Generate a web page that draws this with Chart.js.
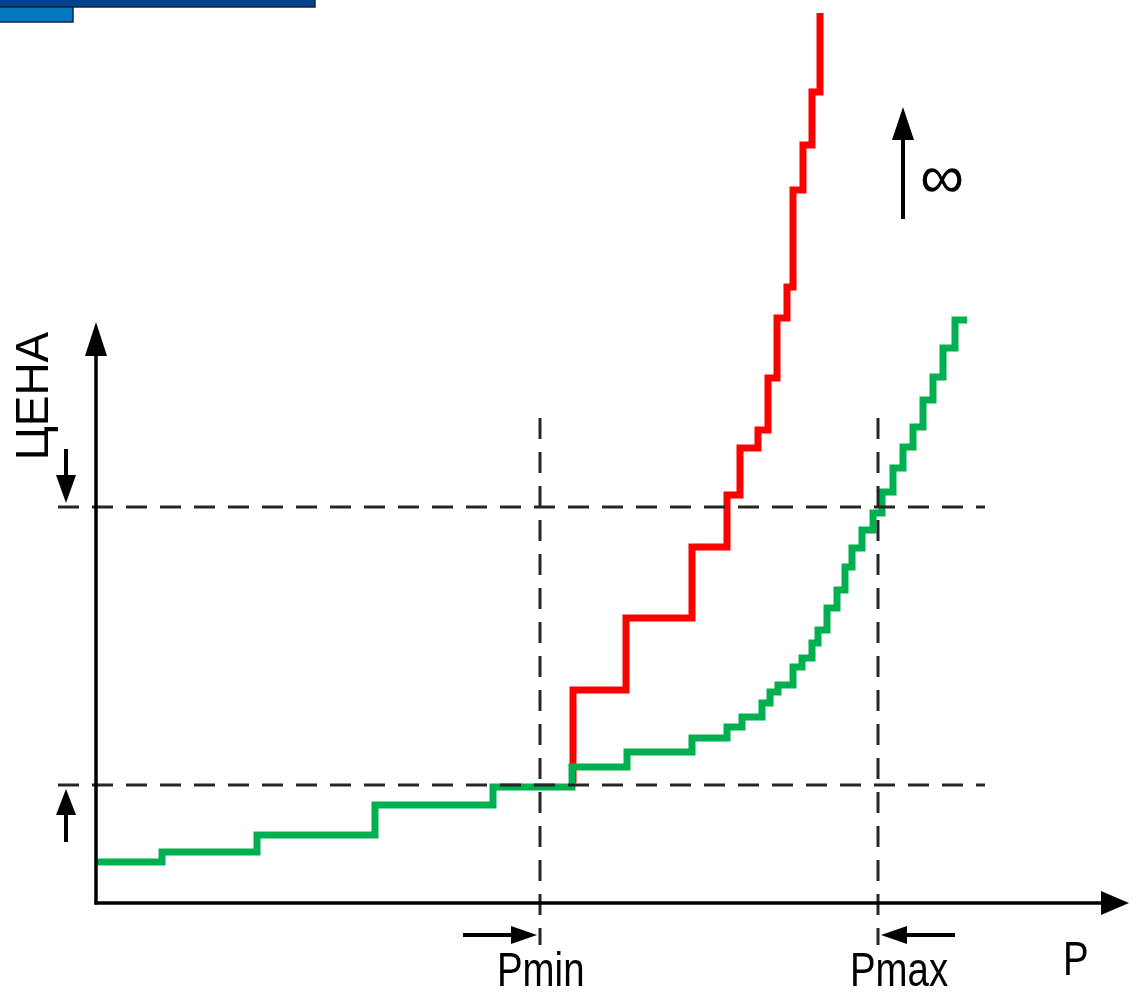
<!DOCTYPE html>
<html>
<head>
<meta charset="utf-8">
<script src="https://cdn.jsdelivr.net/npm/chart.js@4.4.1/dist/chart.umd.min.js"></script>
<style>
  html, body { margin: 0; padding: 0; background: #fff; }
  canvas { display: block; }
</style>
</head>
<body>
<canvas id="chart" width="1136" height="994"></canvas>
<script>
/* ── Data (P along x, price along y) ── */
const greenP     = [0, 66, 161, 279, 397, 476, 531, 596, 631, 646, 666, 674, 682, 697, 706, 716,
                    722, 731, 741, 749, 756, 766, 777, 786, 797, 807, 817, 827, 837, 847, 859, 871];
const greenPrice = [41, 41, 51, 68, 98, 116, 136, 151, 165, 176, 186, 200, 211, 218, 236, 245,
                    260, 273, 295, 313, 336, 355, 373, 390, 411, 435, 456, 476, 503, 526, 555, 583];
const redP       = [477, 530, 596, 631, 644, 662, 672, 681, 691, 697, 707, 716, 724, 724];
const redPrice   = [120, 213, 285, 356, 408, 455, 473, 525, 585, 616, 713, 758, 811, 890];

const priceLevels = [118, 396];          // lower / upper price bounds
const pLevels     = [444, 782];          // Pmin / Pmax
const pLabels     = ['Pmin', 'Pmax'];
const axisLabelX  = 'P';
const axisLabelY  = 'ЦЕНА';
const upLabel     = '∞';

/* ── Colors ── */
const GREEN = '#00B050';
const RED   = '#FF0000';
const INK   = '#000000';
const DASH  = '#262626';

function toPoints(xs, ys) {
  return xs.map((x, i) => ({ x, y: ys[i] }));
}

/* ── Drawing helpers ── */
function arrow(ctx, x1, y1, x2, y2, headLen, headHalf, width) {
  const ang = Math.atan2(y2 - y1, x2 - x1);
  const bx = x2 - Math.cos(ang) * headLen;
  const by = y2 - Math.sin(ang) * headLen;
  ctx.save();
  ctx.strokeStyle = INK;
  ctx.fillStyle = INK;
  ctx.lineWidth = width;
  ctx.setLineDash([]);
  ctx.beginPath();
  ctx.moveTo(x1, y1);
  ctx.lineTo(bx, by);
  ctx.stroke();
  ctx.beginPath();
  ctx.moveTo(x2, y2);
  ctx.lineTo(bx - Math.sin(ang) * headHalf, by + Math.cos(ang) * headHalf);
  ctx.lineTo(bx + Math.sin(ang) * headHalf, by - Math.cos(ang) * headHalf);
  ctx.closePath();
  ctx.fill();
  ctx.restore();
}

function dashed(ctx, x1, y1, x2, y2) {
  ctx.save();
  ctx.strokeStyle = DASH;
  ctx.lineWidth = 3;
  ctx.setLineDash([21, 13]);
  ctx.beginPath();
  ctx.moveTo(x1, y1);
  ctx.lineTo(x2, y2);
  ctx.stroke();
  ctx.restore();
}

// Arial-Narrow look: Liberation Sans squeezed horizontally
function narrowText(ctx, text, x, y, size) {
  ctx.save();
  ctx.translate(x, y);
  ctx.scale(0.8, 1);
  ctx.font = size + 'px "Liberation Sans", Arial, sans-serif';
  ctx.textAlign = 'left';
  ctx.textBaseline = 'alphabetic';
  ctx.fillText(text, 0, 0);
  ctx.restore();
}

/* ── Diagram overlay: axes, bounds, labels ── */
const diagram = {
  id: 'diagram',
  beforeDraw(chart) {
    const ctx = chart.ctx;
    ctx.save();
    ctx.fillStyle = '#fff';
    ctx.fillRect(0, 0, chart.width, chart.height);
    // header bars
    ctx.strokeStyle = '#14233a';
    ctx.lineWidth = 1.5;
    ctx.fillStyle = '#00438C';
    ctx.fillRect(0, 0, 315, 7);
    ctx.strokeRect(-1, -1, 316, 8);
    ctx.fillStyle = '#0079C1';
    ctx.fillRect(0, 7, 73, 15);
    ctx.strokeRect(-1, 7, 74, 15);
    ctx.restore();
  },
  afterDatasetsDraw(chart) {
    const ctx = chart.ctx;
    const xs = chart.scales.x, ys = chart.scales.y;
    const x0 = xs.getPixelForValue(0), y0 = ys.getPixelForValue(0);

    // bound lines
    priceLevels.forEach(v => {
      const y = ys.getPixelForValue(v);
      dashed(ctx, x0 - 38, y, xs.getPixelForValue(889), y);
    });
    pLevels.forEach(v => {
      const x = xs.getPixelForValue(v);
      dashed(ctx, x, ys.getPixelForValue(485), x, y0 + 42);
    });

    // axes
    arrow(ctx, x0, y0 + 1.5, x0, ys.getPixelForValue(581), 34, 11, 3.5);
    arrow(ctx, x0 - 1.5, y0, xs.getPixelForValue(1033), y0, 28, 12, 3.5);

    // small bound arrows on the price axis
    const yLo = ys.getPixelForValue(priceLevels[0]);
    const yHi = ys.getPixelForValue(priceLevels[1]);
    arrow(ctx, x0 - 30, yHi - 58, x0 - 30, yHi - 4, 28, 10, 4);
    arrow(ctx, x0 - 30, yLo + 57, x0 - 30, yLo + 4, 26, 10, 4);

    // small bound arrows on the P axis
    const xMin = xs.getPixelForValue(pLevels[0]);
    const xMax = xs.getPixelForValue(pLevels[1]);
    arrow(ctx, xMin - 77, y0 + 32, xMin - 3, y0 + 32, 26, 9, 4);
    arrow(ctx, xMax + 77, y0 + 32, xMax + 3, y0 + 32, 26, 9, 4);

    // infinity arrow
    arrow(ctx, 903, 219, 903, 107, 33, 11, 4);

    // texts
    ctx.save();
    ctx.fillStyle = INK;
    narrowText(ctx, pLabels[0], xMin - 43, y0 + 83, 48);
    narrowText(ctx, pLabels[1], xMax - 28, y0 + 83, 48);
    narrowText(ctx, axisLabelX, 1063, y0 + 72, 48);

    ctx.font = '62px "Liberation Sans", sans-serif';
    ctx.textBaseline = 'alphabetic';
    ctx.textAlign = 'left';
    ctx.fillText(upLabel, 920, 198);

    ctx.translate(48, 396);
    ctx.rotate(-Math.PI / 2);
    ctx.textAlign = 'center';
    ctx.font = '46px "Liberation Sans", sans-serif';
    ctx.fillText(axisLabelY, 0, 0);
    ctx.restore();
  }
};

new Chart(document.getElementById('chart'), {
  type: 'line',
  data: {
    datasets: [
      {
        label: 'green',
        data: toPoints(greenP, greenPrice),
        borderColor: GREEN,
        borderWidth: 7,
        stepped: 'after',
        pointRadius: 0,
        fill: false,
      },
      {
        label: 'red',
        data: toPoints(redP, redPrice),
        borderColor: RED,
        borderWidth: 7,
        stepped: 'after',
        pointRadius: 0,
        fill: false,
      },
    ],
  },
  options: {
    responsive: false,
    animation: false,
    devicePixelRatio: 1,
    layout: { padding: { left: 96, right: 0, top: 0, bottom: 91 } },
    plugins: { legend: { display: false }, tooltip: { enabled: false } },
    scales: {
      x: { type: 'linear', min: 0, max: 1040, display: false },
      y: { type: 'linear', min: 0, max: 903, display: false },
    },
  },
  plugins: [diagram],
});
</script>
</body>
</html>
